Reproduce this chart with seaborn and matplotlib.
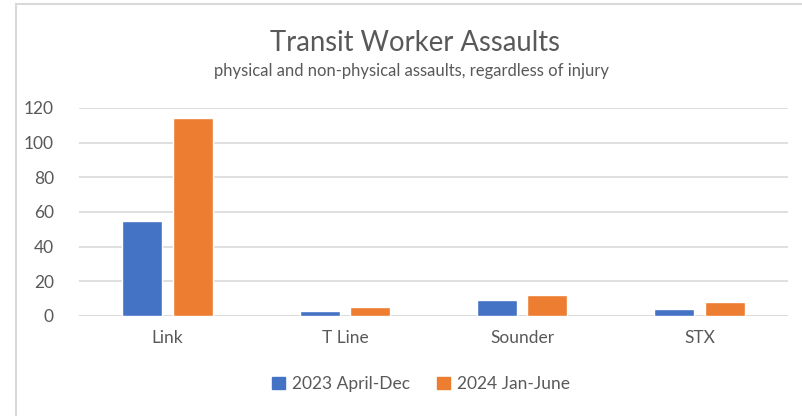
import matplotlib
matplotlib.use("Agg")
import matplotlib.pyplot as plt
import seaborn as sns
import pandas as pd
from matplotlib.patches import Rectangle

categories = ["Link", "T Line", "Sounder", "STX"]
series_names = ["2023 April-Dec", "2024 Jan-June"]
values_2023 = [55, 3, 9, 4]
values_2024 = [114, 5, 12, 8]
y_ticks = [0, 20, 40, 60, 80, 100, 120]

colors = ["#4472C4", "#ED7D31"]
text_color = "#595959"
grid_color = "#D9D9D9"

df = pd.DataFrame({
    "category": categories * 2,
    "series": [series_names[0]] * len(categories) + [series_names[1]] * len(categories),
    "value": values_2023 + values_2024,
})

sns.set_style("white")
plt.rcParams["font.family"] = ["Lato", "DejaVu Sans"]

W, H = 802, 416
fig = plt.figure(figsize=(W / 100, H / 100), dpi=100)
ax = fig.add_axes([79 / W, 1 - 316 / H, (788 - 79) / W, (316 - 108) / H])

sns.barplot(data=df, x="category", y="value", hue="series", order=categories,
            hue_order=series_names, palette=colors, width=0.572, gap=0.21,
            ax=ax, legend=False, saturation=1, errorbar=None)

ax.set_ylim(0, 120)
ax.set_xlim(-0.5, len(categories) - 0.5)
ax.set_yticks(y_ticks)
ax.yaxis.grid(True, color=grid_color, linewidth=1.2)
ax.set_axisbelow(True)
for s in ax.spines.values():
    s.set_visible(False)
ax.axhline(0, color=grid_color, linewidth=1.2, zorder=0.5)
ax.set_xlabel("")
ax.set_ylabel("")
ax.tick_params(axis="both", length=0, labelsize=12.5, labelcolor=text_color)
ax.tick_params(axis="y", pad=18)
ax.tick_params(axis="x", pad=10)

fig.text(415 / W, 1 - 43 / H, "Transit Worker Assaults", ha="center", va="center",
         fontsize=19.8, color=text_color)
fig.text(412 / W, 1 - 71 / H, "physical and non-physical assaults, regardless of injury",
         ha="center", va="center", fontsize=12, color=text_color)

handles = [Rectangle((0, 0), 1, 1, color=c) for c in colors]
fig.legend(handles, series_names, loc="center", bbox_to_anchor=(421 / W, 1 - 384 / H),
           ncol=2, frameon=False, fontsize=12.5, labelcolor=text_color,
           handlelength=0.7, handleheight=0.7, handletextpad=0.4, columnspacing=1.6)

fig.patches.append(Rectangle((16 / W, -0.1), 2, 1 - 4 / H + 0.1, transform=fig.transFigure,
                             fill=False, edgecolor=grid_color, linewidth=1.5))

fig.savefig("out.png", dpi=100)
